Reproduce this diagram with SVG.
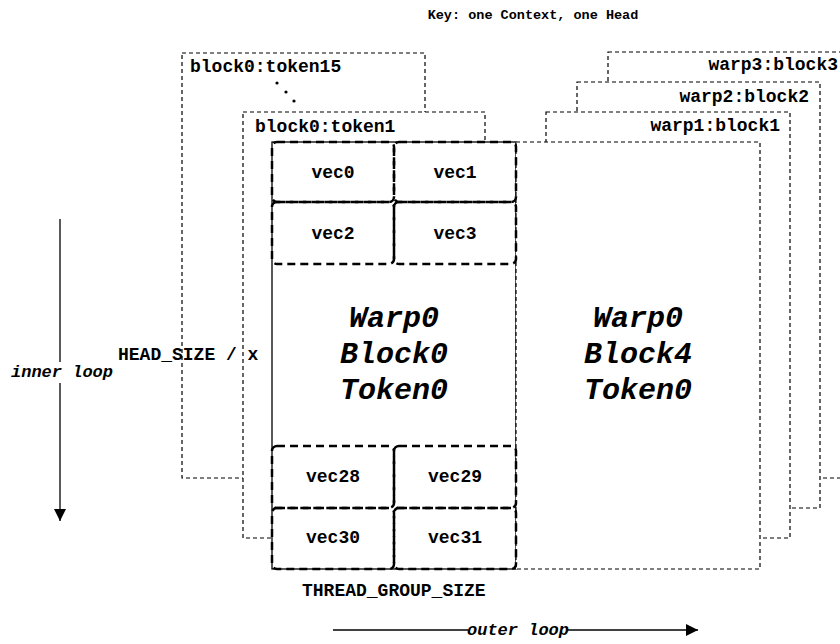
<svg xmlns="http://www.w3.org/2000/svg" width="840" height="644" viewBox="0 0 840 644">
<style>
text{font-family:"Liberation Mono","Courier New",monospace;font-weight:bold;fill:#000}
.lbl{font-size:18px}
.big{font-size:30px;font-style:italic;text-anchor:middle}
.it{font-size:17px;font-style:italic}
.thin{fill:#fff;stroke:#000;stroke-width:1.2;stroke-dasharray:4 3}
.vec{fill:none;stroke:#000;stroke-width:2.5;stroke-dasharray:8 5}
.vt{font-size:18px;text-anchor:middle}
</style>
<defs>
<marker id="ah" viewBox="0 0 10 10" refX="10" refY="5" markerWidth="12" markerHeight="12" markerUnits="userSpaceOnUse" orient="auto">
<path d="M0,0 L10,5 L0,10 Z" fill="#000"/>
</marker>
</defs>
<text x="533" y="19" style="font-size:13.5px" text-anchor="middle">Key: one Context, one Head</text>
<g id="token15">
<rect class="thin" x="182" y="53" width="243" height="425"/>
<text class="lbl" x="190" y="72">block0:token15</text>
<circle cx="277" cy="83" r="1.6"/><circle cx="286" cy="92" r="1.6"/><circle cx="294" cy="101" r="1.6"/>
</g>
<g id="token1">
<rect class="thin" x="243" y="112" width="242" height="426"/>
<text class="lbl" x="255" y="132">block0:token1</text>
</g>
<g id="warp3">
<rect class="thin" x="608" y="52" width="250" height="426"/>
<text class="lbl" x="838" y="70" text-anchor="end">warp3:block3</text>
</g>
<g id="warp2">
<rect class="thin" x="577" y="82" width="243" height="426"/>
<text class="lbl" x="809" y="102" text-anchor="end">warp2:block2</text>
</g>
<g id="warp1">
<rect class="thin" x="546" y="112" width="244" height="426"/>
<text class="lbl" x="780" y="131" text-anchor="end">warp1:block1</text>
</g>
<g id="block0">
<rect x="272" y="142" width="244" height="427" fill="#fff" stroke="#000" stroke-width="1.3"/>
<text class="big" x="394" y="327">Warp0</text>
<text class="big" x="394" y="363">Block0</text>
<text class="big" x="394" y="399">Token0</text>
</g>
<g id="block4">
<rect class="thin" x="516" y="142" width="244" height="427"/>
<text class="big" x="638" y="327">Warp0</text>
<text class="big" x="638" y="363">Block4</text>
<text class="big" x="638" y="399">Token0</text>
</g>
<g id="vecs">
<g id="vec0"><rect class="vec" x="272" y="142" width="122" height="60" rx="5"/><text class="vt" x="333" y="178">vec0</text></g>
<g id="vec1"><rect class="vec" x="394" y="142" width="122" height="60" rx="5"/><text class="vt" x="455" y="178">vec1</text></g>
<g id="vec2"><rect class="vec" x="272" y="202" width="122" height="62" rx="5"/><text class="vt" x="333" y="239">vec2</text></g>
<g id="vec3"><rect class="vec" x="394" y="202" width="122" height="62" rx="5"/><text class="vt" x="455" y="239">vec3</text></g>
<g id="vec28"><rect class="vec" x="272" y="446" width="122" height="62" rx="5"/><text class="vt" x="333" y="482">vec28</text></g>
<g id="vec29"><rect class="vec" x="394" y="446" width="122" height="62" rx="5"/><text class="vt" x="455" y="482">vec29</text></g>
<g id="vec30"><rect class="vec" x="272" y="508" width="122" height="61" rx="5"/><text class="vt" x="333" y="543">vec30</text></g>
<g id="vec31"><rect class="vec" x="394" y="508" width="122" height="61" rx="5"/><text class="vt" x="455" y="543">vec31</text></g>
</g>
<g id="labels">
<text class="lbl" x="118" y="360">HEAD_SIZE / x</text>
<text class="lbl" x="302" y="596">THREAD_GROUP_SIZE</text>
<text class="it" x="62" y="377" text-anchor="middle">inner loop</text>
<text class="it" x="518" y="635" text-anchor="middle">outer loop</text>
</g>
<g id="connectors" stroke="#000" stroke-width="1.3" fill="none">
<line x1="60" y1="219" x2="60" y2="362"/>
<line x1="60" y1="383" x2="60" y2="521" marker-end="url(#ah)"/>
<line x1="333" y1="630" x2="468" y2="630"/>
<line x1="568" y1="630" x2="698" y2="630" marker-end="url(#ah)"/>
</g>
</svg>
